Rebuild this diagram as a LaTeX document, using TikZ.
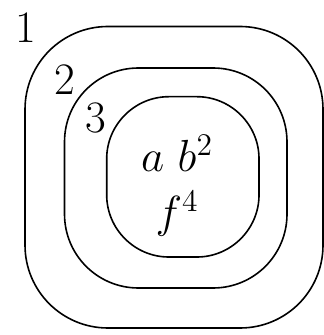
\RequirePackage{fix-cm}
\documentclass[tikz,border=0pt]{standalone}
\usepackage{tikz}
\usetikzlibrary{positioning}

% rounded box: x1, y1, x2, y2, corner reach, handle length
\newcommand{\ringbox}[6]{%
  \draw[ring] (#1+#5,#2) -- (#3-#5,#2)
    .. controls (#3-#5+#6,#2) and (#3,#2+#5-#6) .. (#3,#2+#5)
    -- (#3,#4-#5)
    .. controls (#3,#4-#5+#6) and (#3-#5+#6,#4) .. (#3-#5,#4)
    -- (#1+#5,#4)
    .. controls (#1+#5-#6,#4) and (#1,#4-#5+#6) .. (#1,#4-#5)
    -- (#1,#2+#5)
    .. controls (#1,#2+#5-#6) and (#1+#5-#6,#2) .. (#1+#5,#2) -- cycle;}

\begin{document}
\begin{tikzpicture}[
  x=0.5pt, y=-0.5pt,
  ring/.style={draw=black, line width=0.8pt},
  tag/.style={inner sep=0pt, font=\fontsize{22.5}{27}\selectfont},
]
\useasboundingbox (0,0) rectangle (324,335);
\ringbox{25}{26.5}{323}{328}{83}{46}
\ringbox{64.5}{68}{287}{288}{74}{41}
\ringbox{106.7}{96.7}{259}{257}{62}{34}

\node[tag] (l1) at (26,28) {1};
\node[tag] (l2) at (65,80) {2};
\node[tag] (l3) at (96,118) {3};

\node[tag, align=center] (elems) at (177,186) {$a\ b^2$\\[1pt]$f^4$};
\end{tikzpicture}
\end{document}
